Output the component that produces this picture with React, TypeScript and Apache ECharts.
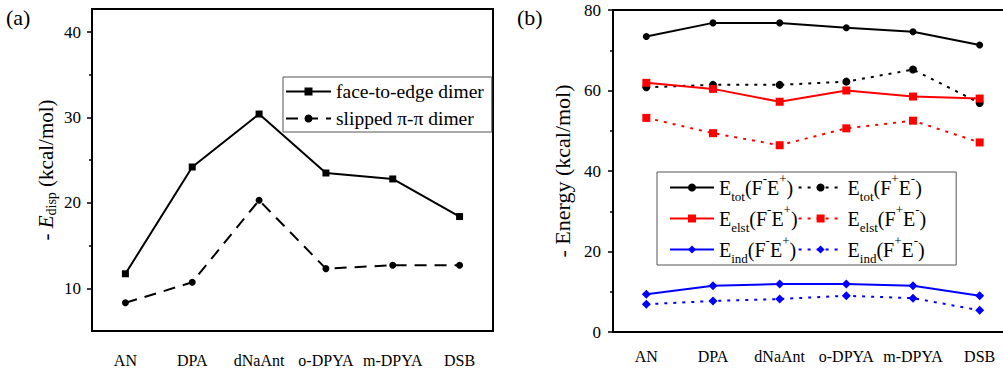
import React, { useEffect, useRef } from "react";
import * as echarts from "echarts";

const categories = ["AN", "DPA", "dNaAnt", "o-DPYA", "m-DPYA", "DSB"];

// panel (a): - E_disp (kcal/mol)
const faceToEdge = [11.7, 24.2, 30.4, 23.5, 22.8, 18.4];
const slippedPiPi = [8.3, 10.7, 20.3, 12.3, 12.7, 12.7];
const dispTicks = [10, 20, 30, 40];

// panel (b): - Energy (kcal/mol)
const etotFmEp = [73.4, 76.8, 76.8, 75.6, 74.6, 71.3];
const etotFpEm = [60.8, 61.4, 61.4, 62.2, 65.2, 56.9];
const eelstFmEp = [61.9, 60.4, 57.2, 60.0, 58.5, 58.0];
const eelstFpEm = [53.2, 49.4, 46.4, 50.6, 52.5, 47.1];
const eindFmEp = [9.4, 11.5, 11.9, 11.9, 11.5, 9.0];
const eindFpEm = [6.9, 7.7, 8.2, 9.0, 8.4, 5.4];

const FONT = "Liberation Serif";

const legendRich: Record<string, string> = {
  "Etot(F-E+)": "E{sub|tot}(F{sup|-}E{sup|+})",
  "Etot(F+E-)": "E{sub|tot}(F{sup|+}E{sup|-})",
  "Eelst(F-E+)": "E{sub|elst}(F{sup|-}E{sup|+})",
  "Eelst(F+E-)": "E{sub|elst}(F{sup|+}E{sup|-})",
  "Eind(F-E+)": "E{sub|ind}(F{sup|-}E{sup|+})",
  "Eind(F+E-)": "E{sub|ind}(F{sup|+}E{sup|-})",
};

export default function App() {
  const ref = useRef<HTMLDivElement>(null);
  useEffect(() => {
    if (!ref.current) return;
    const chart = echarts.init(ref.current, null, { renderer: "svg" });
    const dotted = [3, 6];
    const mkB = (
      name: string,
      data: number[],
      color: string,
      symbol: string,
      size: number,
      dot: boolean
    ) => ({
      name,
      type: "line",
      xAxisIndex: 1,
      yAxisIndex: 1,
      data,
      symbol,
      symbolSize: size,
      showSymbol: true,
      lineStyle: { color, width: 2, type: dot ? dotted : "solid" },
      itemStyle: { color },
    });
    const option: any = {
      animation: false,
      backgroundColor: "#fff",
      textStyle: { fontFamily: FONT },
      graphic: [
        {
          type: "text",
          left: 6,
          top: 6,
          style: { text: "(a)", fontFamily: FONT, fontSize: 22, fill: "#000" },
        },
        {
          type: "text",
          left: 517,
          top: 6,
          style: { text: "(b)", fontFamily: FONT, fontSize: 22, fill: "#000" },
        },
      ],
      grid: [
        {
          left: 92,
          top: 9,
          width: 401,
          height: 322,
          show: true,
          borderColor: "#000",
          borderWidth: 2,
          backgroundColor: "transparent",
          outerBoundsMode: "none",
        },
        {
          left: 613,
          top: 10,
          width: 400,
          height: 322,
          show: true,
          borderColor: "#000",
          borderWidth: 2,
          backgroundColor: "transparent",
          outerBoundsMode: "none",
        },
      ],
      xAxis: [
        {
          type: "category",
          gridIndex: 0,
          data: categories,
          boundaryGap: true,
          axisLine: { lineStyle: { color: "#000", width: 2 } },
          axisTick: { show: false },
          axisLabel: {
            interval: 0,
            margin: 21,
            color: "#000",
            fontFamily: FONT,
            fontSize: 16,
          },
          splitLine: { show: false },
        },
        {
          type: "category",
          gridIndex: 1,
          data: categories,
          boundaryGap: true,
          axisLine: { lineStyle: { color: "#000", width: 2 } },
          axisTick: { show: false },
          axisLabel: {
            interval: 0,
            margin: 16,
            color: "#000",
            fontFamily: FONT,
            fontSize: 16,
          },
          splitLine: { show: false },
        },
      ],
      yAxis: [
        {
          type: "value",
          gridIndex: 0,
          min: 5,
          max: 42.7,
          name: "- {i|E}{sub|disp} (kcal/mol)",
          nameLocation: "middle",
          nameRotate: 90,
          nameGap: 34,
          nameTextStyle: {
            color: "#000",
            fontFamily: FONT,
            fontSize: 21,
            lineHeight: 24,
            rich: {
              i: {
                fontStyle: "italic",
                fontFamily: FONT,
                fontSize: 21,
                lineHeight: 24,
                color: "#000",
              },
              sub: {
                fontFamily: FONT,
                fontSize: 14,
                lineHeight: 14,
                verticalAlign: "bottom",
                color: "#000",
              },
            },
          },
          axisLine: { show: true, lineStyle: { color: "#000", width: 2 } },
          axisTick: {
            show: true,
            inside: false,
            length: 5,
            lineStyle: { color: "#000", width: 1.5 },
            customValues: dispTicks,
          },
          minorTick: {
            show: true,
            splitNumber: 2,
            length: 3,
            lineStyle: { color: "#000", width: 1.5 },
          },
          axisLabel: {
            color: "#000",
            fontFamily: FONT,
            fontSize: 17,
            margin: 11,
            customValues: dispTicks,
          },
          splitLine: { show: false },
        },
        {
          type: "value",
          gridIndex: 1,
          min: 0,
          max: 80,
          interval: 20,
          name: "- Energy (kcal/mol)",
          nameLocation: "middle",
          nameRotate: 90,
          nameGap: 40,
          nameTextStyle: { color: "#000", fontFamily: FONT, fontSize: 22 },
          axisLine: { show: true, lineStyle: { color: "#000", width: 2 } },
          axisTick: {
            show: true,
            inside: false,
            length: 5,
            lineStyle: { color: "#000", width: 1.5 },
          },
          minorTick: {
            show: true,
            splitNumber: 2,
            length: 3,
            lineStyle: { color: "#000", width: 1.5 },
          },
          axisLabel: {
            color: "#000",
            fontFamily: FONT,
            fontSize: 17,
            margin: 12,
          },
          splitLine: { show: false },
        },
      ],
      legend: [
        {
          orient: "vertical",
          left: 283,
          top: 77,
          padding: [4, 8, 3, 2],
          itemWidth: 45,
          itemHeight: 10,
          itemGap: 6,
          selectedMode: false,
          borderColor: "#555",
          borderWidth: 1,
          data: ["face-to-edge dimer", "slipped π-π dimer"],
          textStyle: {
            color: "#000",
            fontFamily: FONT,
            fontSize: 19.5,
            lineHeight: 21,
          },
        },
        {
          orient: "vertical",
          left: 657,
          top: 172,
          height: 100,
          padding: [0, 30, 0, 12],
          itemWidth: 44,
          itemHeight: 10,
          itemGap: 0,
          selectedMode: false,
          borderColor: "#555",
          borderWidth: 1,
          data: [
            "Etot(F-E+)",
            "Eelst(F-E+)",
            "Eind(F-E+)",
            "Etot(F+E-)",
            "Eelst(F+E-)",
            "Eind(F+E-)",
          ],
          formatter: (name: string) => legendRich[name] || name,
          textStyle: {
            color: "#000",
            fontFamily: FONT,
            fontSize: 20,
            lineHeight: 31,
            rich: {
              sub: {
                fontFamily: FONT,
                fontSize: 13,
                lineHeight: 21,
                verticalAlign: "bottom",
                color: "#000",
              },
              sup: {
                fontFamily: FONT,
                fontSize: 13,
                lineHeight: 21,
                verticalAlign: "top",
                color: "#000",
              },
            },
          },
        },
      ],
      series: [
        {
          name: "face-to-edge dimer",
          type: "line",
          xAxisIndex: 0,
          yAxisIndex: 0,
          data: faceToEdge,
          symbol: "rect",
          symbolSize: 7,
          lineStyle: { color: "#000", width: 2 },
          itemStyle: { color: "#000" },
        },
        {
          name: "slipped π-π dimer",
          type: "line",
          xAxisIndex: 0,
          yAxisIndex: 0,
          data: slippedPiPi,
          symbol: "circle",
          symbolSize: 7,
          lineStyle: { color: "#000", width: 2, type: [12, 8] },
          itemStyle: { color: "#000" },
        },
        mkB("Etot(F-E+)", etotFmEp, "#000", "circle", 7, false),
        mkB("Etot(F+E-)", etotFpEm, "#000", "circle", 8, true),
        mkB("Eelst(F-E+)", eelstFmEp, "#ff0000", "rect", 8, false),
        mkB("Eelst(F+E-)", eelstFpEm, "#ff0000", "rect", 8, true),
        mkB("Eind(F-E+)", eindFmEp, "#0000ff", "diamond", 9, false),
        mkB("Eind(F+E-)", eindFpEm, "#0000ff", "diamond", 9, true),
      ],
    };
    chart.setOption(option);
    return () => chart.dispose();
  }, []);
  return (
    <div
      ref={ref}
      style={{ position: "absolute", left: 0, top: 0, width: 1003, height: 370 }}
    />
  );
}
